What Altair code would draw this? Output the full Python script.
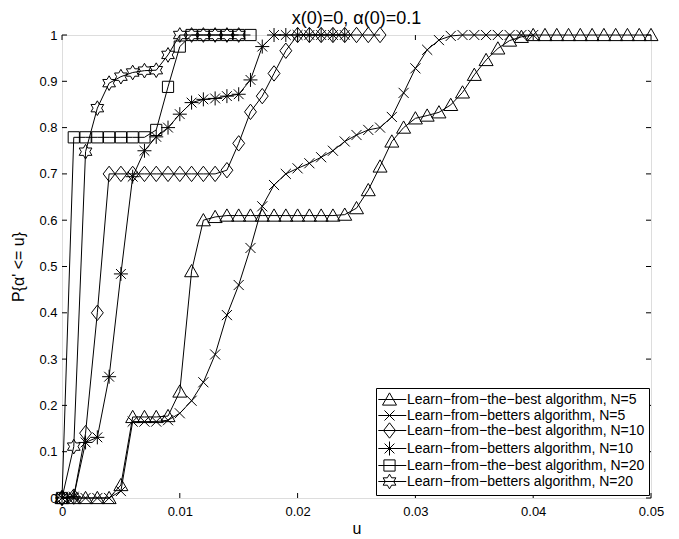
import math
import altair as alt
import pandas as pd

# ---------------- data ----------------
U = [0.000, 0.001, 0.002, 0.003, 0.004, 0.005, 0.006, 0.007, 0.008, 0.009,
     0.010, 0.011, 0.012, 0.013, 0.014, 0.015, 0.016, 0.017, 0.018, 0.019,
     0.020, 0.021, 0.022, 0.023, 0.024, 0.025, 0.026, 0.027, 0.028, 0.029,
     0.030, 0.031, 0.032, 0.033, 0.034, 0.035, 0.036, 0.037, 0.038, 0.039,
     0.040, 0.041, 0.042, 0.043, 0.044, 0.045, 0.046, 0.047, 0.048, 0.049,
     0.050]

best5 = [0, 0, 0, 0, 0, 0.028, 0.175, 0.175, 0.175, 0.177,
         0.23, 0.49, 0.60, 0.607, 0.61, 0.61, 0.61, 0.61, 0.61, 0.61,
         0.61, 0.61, 0.61, 0.61, 0.612, 0.626, 0.665, 0.716, 0.77, 0.80,
         0.82, 0.826, 0.833, 0.849, 0.876, 0.914, 0.946, 0.971, 0.988, 0.996,
         1, 1, 1, 1, 1, 1, 1, 1, 1, 1,
         1]
betters5 = [0, 0, 0, 0, 0, 0.015, 0.165, 0.165, 0.165, 0.168,
            0.183, 0.21, 0.25, 0.31, 0.395, 0.46, 0.54, 0.63, 0.676, 0.70,
            0.712, 0.723, 0.736, 0.75, 0.77, 0.784, 0.795, 0.80, 0.823, 0.875,
            0.928, 0.968, 0.989, 0.998, 1, 1, 1, 1, 1, 1,
            1]
best10 = [0, 0.003, 0.14, 0.40, 0.70, 0.70, 0.70, 0.70, 0.70, 0.70,
          0.70, 0.70, 0.70, 0.70, 0.708, 0.766, 0.834, 0.868, 0.917, 0.966,
          1, 1, 1, 1, 1, 1, 1, 1]
betters10 = [0, 0.003, 0.12, 0.131, 0.262, 0.484, 0.694, 0.75, 0.78, 0.80,
             0.829, 0.854, 0.861, 0.863, 0.868, 0.872, 0.903, 0.975, 1, 1,
             1, 1, 1, 1, 1]
best20 = [0, 0.779, 0.779, 0.779, 0.779, 0.779, 0.779, 0.779, 0.795, 0.888,
          0.975, 1, 1, 1, 1, 1, 1]
betters20 = [0, 0.111, 0.748, 0.842, 0.896, 0.91, 0.919, 0.923, 0.924, 0.957,
             1, 1, 1, 1, 1, 1]

names = [
    "Learn\u2212from\u2212the\u2212best algorithm, N=5",
    "Learn\u2212from\u2212betters algorithm, N=5",
    "Learn\u2212from\u2212the\u2212best algorithm, N=10",
    "Learn\u2212from\u2212betters algorithm, N=10",
    "Learn\u2212from\u2212the\u2212best algorithm, N=20",
    "Learn\u2212from\u2212betters algorithm, N=20",
]
series_values = [best5, betters5, best10, betters10, best20, betters20]

x_ticks = [0, 0.01, 0.02, 0.03, 0.04, 0.05]
y_ticks = [0, 0.1, 0.2, 0.3, 0.4, 0.5, 0.6, 0.7, 0.8, 0.9, 1]

# ---------------- build tables ----------------
rows = []
for name, vals in zip(names, series_values):
    for i, v in enumerate(vals):
        rows.append({"series": name, "u": U[i], "p": v, "i": i})
df = pd.DataFrame(rows)
legend_df = pd.DataFrame({"series": names, "u": [-1.0] * 6, "p": [-1.0] * 6})
xt_df = pd.DataFrame({"t": x_ticks})
yt_df = pd.DataFrame({"t": y_ticks})

# ---------------- marker shapes ----------------
def hexagram(R=1.05):
    r = R / math.sqrt(3)
    pts = []
    for k in range(12):
        ang = math.radians(-90 + 30 * k)
        rad = R if k % 2 == 0 else r
        pts.append((rad * math.cos(ang), rad * math.sin(ang)))
    return "M" + "L".join(f"{x:.3f},{y:.3f}" for x, y in pts) + "Z"

tri = "M0,-0.95L1,0.8L-1,0.8Z"
cross = "M-0.72,-0.72L0.72,0.72M-0.72,0.72L0.72,-0.72"
diamond = "M0,-1.1L0.85,0L0,1.1L-0.85,0Z"
aster = "M-1,0L1,0M0,-1L0,1M-0.7,-0.7L0.7,0.7M-0.7,0.7L0.7,-0.7"
square = "M-0.8,-0.8L0.8,-0.8L0.8,0.8L-0.8,0.8Z"
hexa = hexagram()
marker_paths = [tri, cross, diamond, aster, square, hexa]
seg = "M-1.6,0L2.4,0"
legend_paths = [p + seg for p in marker_paths]

FONT = "Liberation Sans"
W, H = 589, 463
TICK = 5

xscale = alt.Scale(domain=[0, 0.05], nice=False, zero=False)
yscale = alt.Scale(domain=[0, 1], nice=False, zero=False)

xenc = alt.X("u:Q", scale=xscale,
             axis=alt.Axis(values=x_ticks, format="~g", title="u", ticks=False,
                           domain=False, grid=False, labelPadding=7, labelFlush=False,
                           titlePadding=2, labelFontSize=13, titleFontSize=16,
                           labelFont=FONT, titleFont=FONT, titleFontWeight="normal",
                           labelColor="black", titleColor="black"))
yenc = alt.Y("p:Q", scale=yscale,
             axis=alt.Axis(values=y_ticks, format="~g", title="P{\u03b1' <= u}",
                           ticks=False, domain=False, grid=False, labelPadding=5,
                           labelFlush=False,
                           titlePadding=12, labelFontSize=13, titleFontSize=16,
                           labelFont=FONT, titleFont=FONT, titleFontWeight="normal",
                           labelColor="black", titleColor="black"))

lines = alt.Chart(df).mark_line(color="black", strokeWidth=1).encode(
    x=xenc, y=yenc, detail="series:N", order="i:Q")

points = alt.Chart(df).mark_point(filled=False, color="black", strokeWidth=1,
                                  size=196, opacity=1).encode(
    x=alt.X("u:Q", scale=xscale),
    y=alt.Y("p:Q", scale=yscale),
    shape=alt.Shape("series:N", scale=alt.Scale(domain=names, range=marker_paths),
                    legend=None))

legend_layer = alt.Chart(legend_df).mark_point(filled=False, color="black",
                                                strokeWidth=1, size=196, clip=True,
                                                opacity=1).encode(
    x=alt.X("u:Q", scale=xscale),
    y=alt.Y("p:Q", scale=yscale),
    shape=alt.Shape("series:N", scale=alt.Scale(domain=names, range=legend_paths),
                    legend=alt.Legend(title=None, orient="none", legendX=314,
                                      legendY=353, labelFontSize=14, labelFont=FONT,
                                      labelColor="black", labelLimit=400,
                                      labelOffset=10, symbolSize=196,
                                      labelExpr="datum.label + '\u00a0\u00a0'",
                                      symbolStrokeColor="black",
                                      symbolStrokeWidth=1, rowPadding=-3,
                                      padding=4, strokeColor="black",
                                      fillColor="white", symbolOffset=2)))

bottom_ticks = alt.Chart(xt_df).mark_rule(color="black", strokeWidth=1).encode(
    x=alt.X("t:Q", scale=xscale), y=alt.value(H), y2=alt.value(H - TICK))
top_ticks = alt.Chart(xt_df).mark_rule(color="black", strokeWidth=1).encode(
    x=alt.X("t:Q", scale=xscale), y=alt.value(0), y2=alt.value(TICK))
left_ticks = alt.Chart(yt_df).mark_rule(color="black", strokeWidth=1).encode(
    y=alt.Y("t:Q", scale=yscale), x=alt.value(0), x2=alt.value(TICK))
right_ticks = alt.Chart(yt_df).mark_rule(color="black", strokeWidth=1).encode(
    y=alt.Y("t:Q", scale=yscale), x=alt.value(W), x2=alt.value(W - TICK))

chart = alt.layer(
    bottom_ticks, top_ticks, left_ticks, right_ticks, lines, points, legend_layer
).resolve_scale(shape="independent").properties(
    width=W, height=H,
    title=alt.TitleParams("x(0)=0, \u03b1(0)=0.1", fontSize=18, font=FONT,
                          fontWeight="normal", color="black", offset=-3),
    padding={"left": 2, "top": 2, "right": 5, "bottom": 0},
).configure_view(stroke="black", strokeWidth=1.2).configure(background="white")

chart.save("out.html", embed_options={"renderer": "svg", "actions": False})
